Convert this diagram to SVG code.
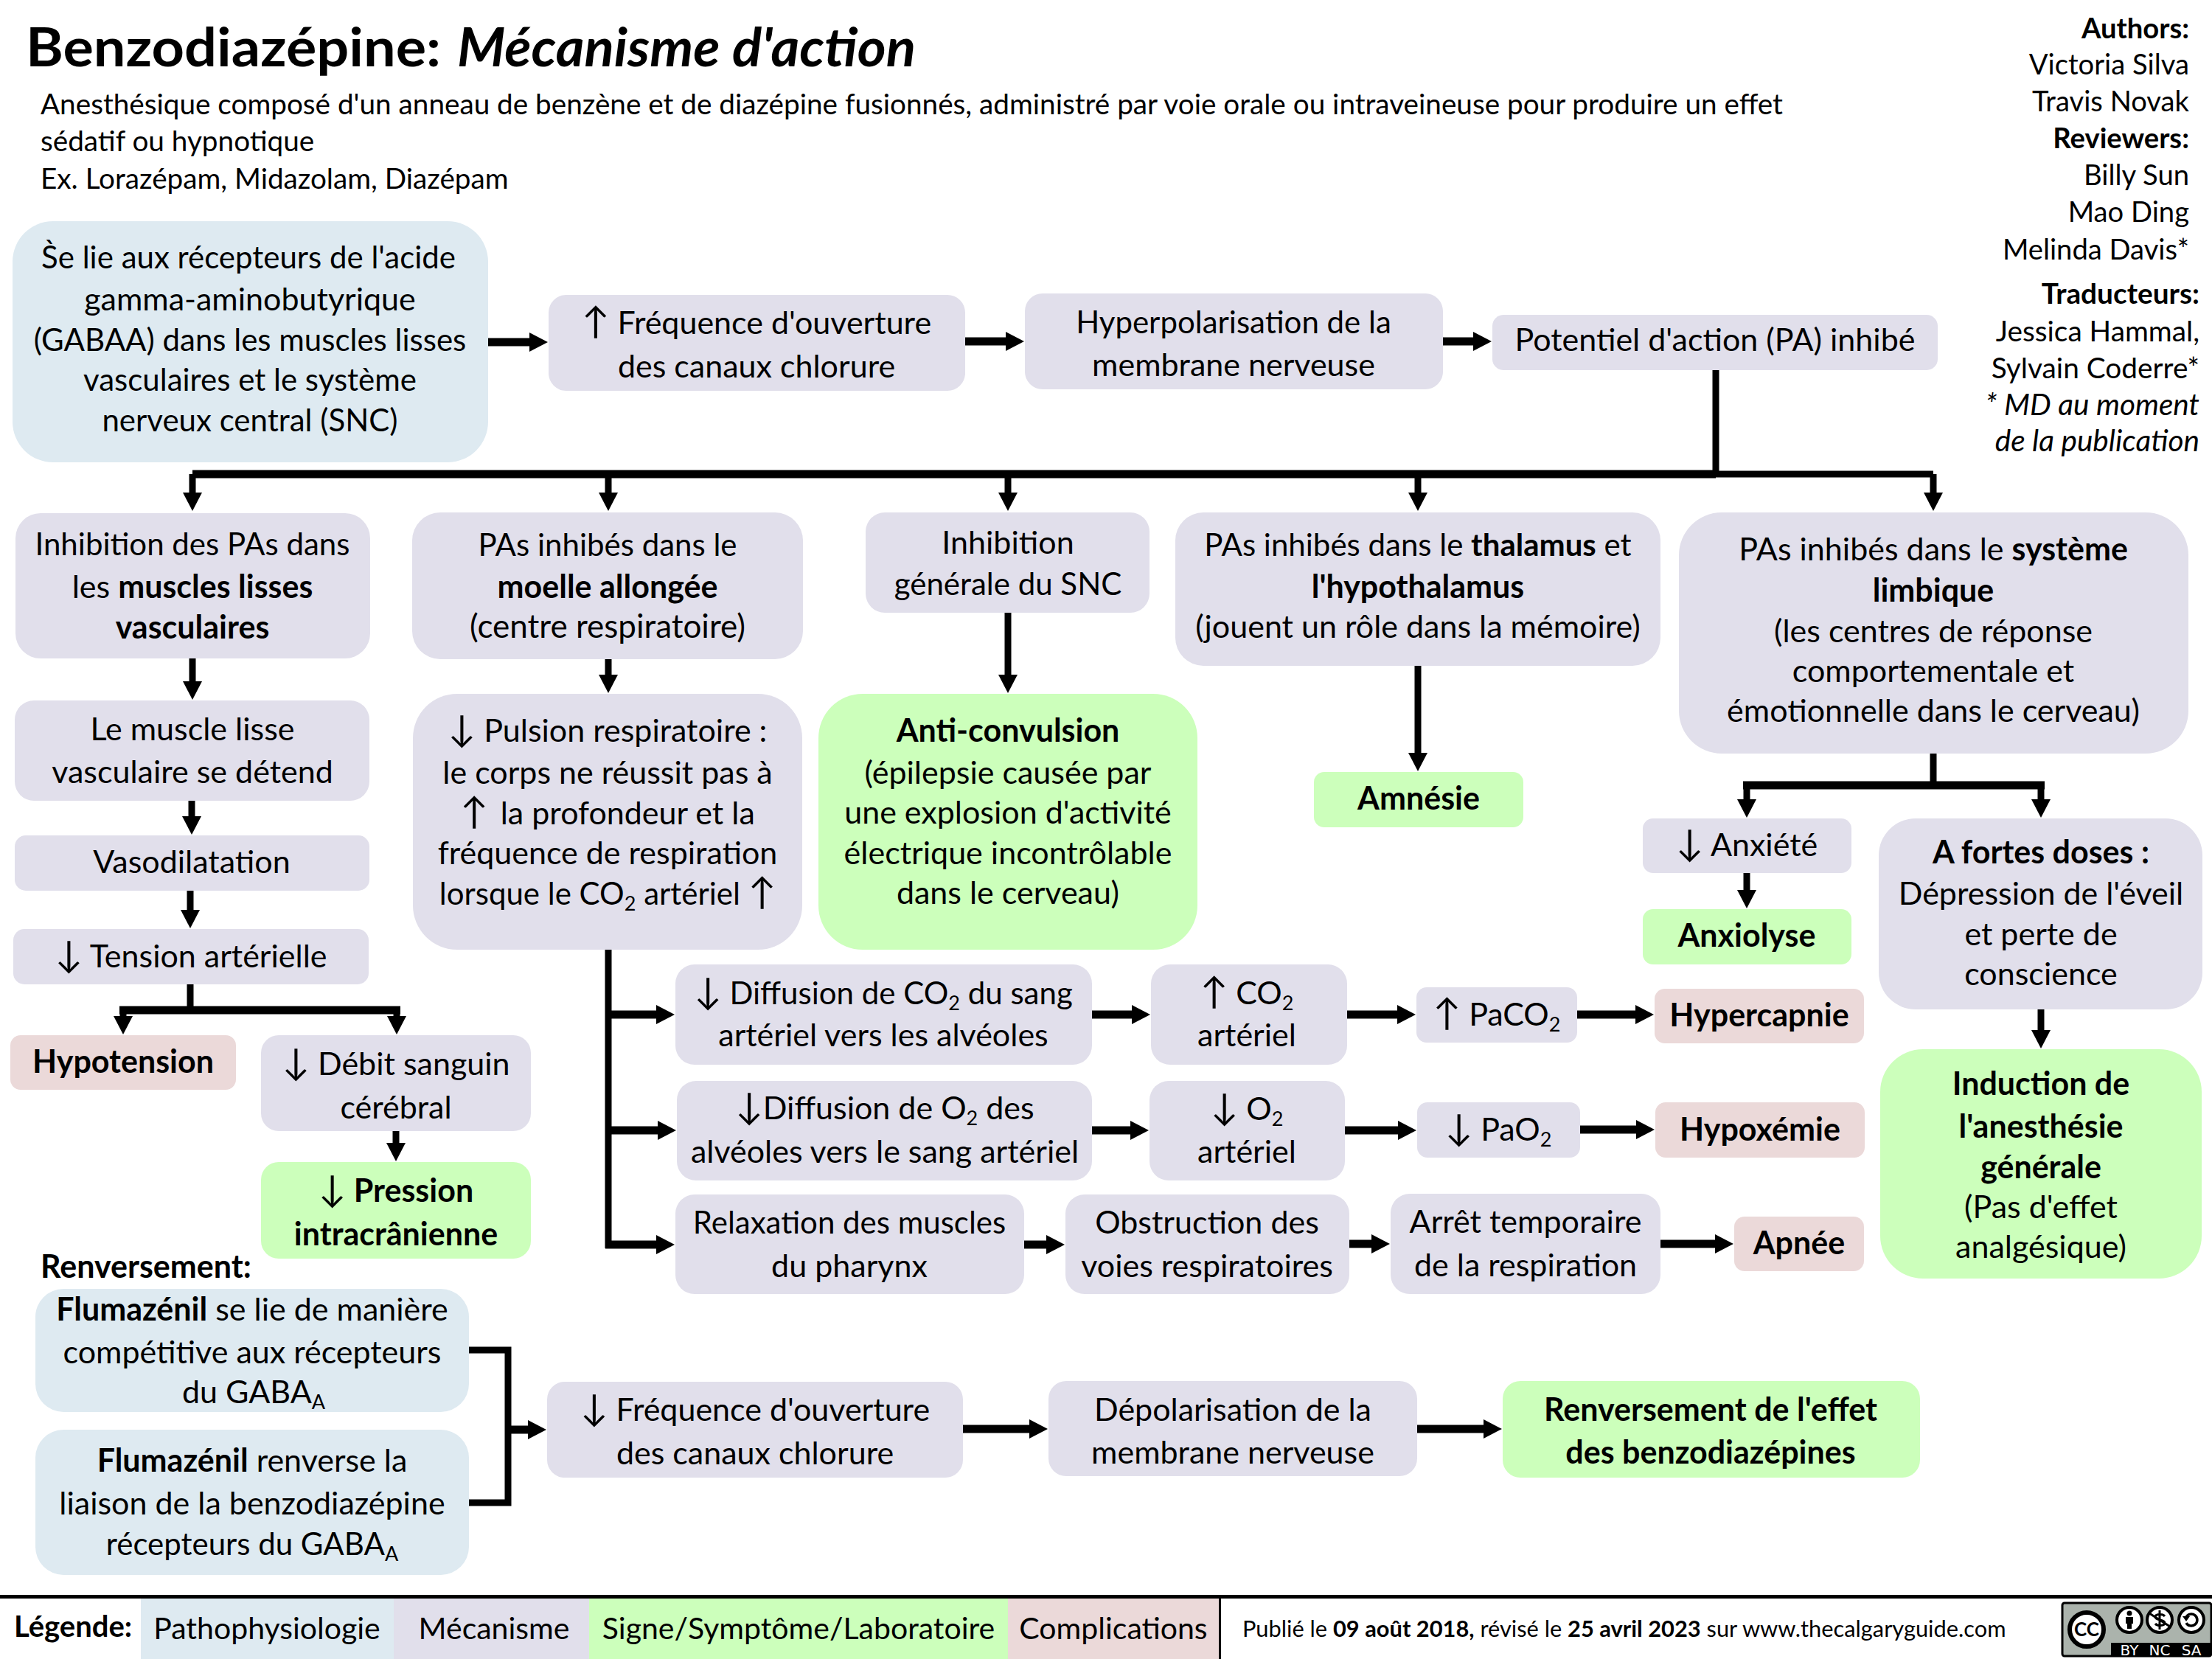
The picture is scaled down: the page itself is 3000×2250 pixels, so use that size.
<svg xmlns="http://www.w3.org/2000/svg" width="3000" height="2250" viewBox="0 0 3000 2250">
<style>
text{font-family:"Lato","Liberation Sans","DejaVu Sans",sans-serif;fill:#000}
.t{font-size:43px;text-anchor:middle}
.s{font-size:38.7px}
.cr{font-size:38.2px;text-anchor:end}
.tr{font-size:38.8px;text-anchor:end}
.ci{font-size:40.6px;font-style:italic}
.lg{font-size:41px;text-anchor:middle}
.b{font-weight:700}
.i{font-style:italic}
.sub{font-size:27px}
.ar{font-size:50px;font-weight:400}
.f42{font-size:42px}
.f44{font-size:44px}
.blue{fill:#DEEAF1}.mech{fill:#E1DFEB}.sign{fill:#CCFFBB}.comp{fill:#EBD9D9}
.c{fill:none;stroke:#000;stroke-width:9;stroke-linejoin:miter}
.a{marker-end:url(#h)}
.h{stroke-width:11}
.w{fill:#fff;stroke:#000}
.cct{font-size:20px;text-anchor:middle;fill:#fff;font-family:"DejaVu Sans",sans-serif}
</style>
<defs><marker id="h" markerUnits="userSpaceOnUse" viewBox="0 0 25 26" refX="1" refY="13" markerWidth="25" markerHeight="26" orient="auto"><path d="M0,0L25,13L0,26Z" fill="#000"/></marker></defs>
<rect width="3000" height="2250" fill="#fff"/>
<g id="header">
<text x="35" y="90" font-size="72" class="b" textLength="563" lengthAdjust="spacingAndGlyphs">Benzodiazépine:</text>
<text x="620" y="90" font-size="72" class="b i" textLength="622" lengthAdjust="spacingAndGlyphs">Mécanisme d'action</text>
<text class="s"><tspan x="55" y="155">Anesthésique composé d'un anneau de benzène et de diazépine fusionnés, administré par voie orale ou intraveineuse pour produire un effet</tspan><tspan x="55" y="205">sédatif ou hypnotique</tspan><tspan x="55" y="256">Ex. Lorazépam, Midazolam, Diazépam</tspan></text>
</g>
<g id="credits">
<text class="cr"><tspan x="2969" y="52" class="b">Authors:</tspan><tspan x="2969" y="101">Victoria Silva</tspan><tspan x="2969" y="151">Travis Novak</tspan><tspan x="2969" y="201" class="b">Reviewers:</tspan><tspan x="2969" y="251">Billy Sun</tspan><tspan x="2969" y="301">Mao Ding</tspan><tspan x="2969" y="352">Melinda Davis*</tspan></text>
<text class="tr"><tspan x="2983" y="412" class="b">Traducteurs:</tspan><tspan x="2983" y="463">Jessica Hammal,</tspan><tspan x="2983" y="513">Sylvain Coderre*</tspan><tspan x="2983" y="563" class="ci">* MD au moment</tspan><tspan x="2983" y="612" class="ci">de la publication</tspan></text>
</g>
<g id="connectors">
<path class="c h a" d="M662,464H719"/>
<path class="c h a" d="M1309,463H1365"/>
<path class="c h a" d="M1957,463H1999"/>
<path class="c" d="M2327,502V643"/>
<path class="c h" d="M261,643H2327"/>
<path class="c" d="M2327,643H2622"/>
<path class="c a" d="M261,643V669"/>
<path class="c a" d="M825,643V669"/>
<path class="c a" d="M1367,643V669"/>
<path class="c a" d="M1923,643V669"/>
<path class="c a" d="M2622,643V669"/>
<path class="c a" d="M261,893V925"/>
<path class="c a" d="M260,1086V1108"/>
<path class="c a" d="M258,1208V1235"/>
<path class="c" d="M258,1335V1370"/>
<path class="c a" d="M167,1370V1379"/>
<path class="c a" d="M538,1370V1379"/>
<path class="c h" d="M162,1370H543"/>
<path class="c a" d="M537,1534V1551"/>
<path class="c a" d="M825,894V916"/>
<path class="c" d="M825,1288V1693"/>
<path class="c h a" d="M825,1376H891"/>
<path class="c h a" d="M825,1533H893"/>
<path class="c h a" d="M821,1688H891"/>
<path class="c a" d="M1367,831V916"/>
<path class="c a" d="M1923,903V1022"/>
<path class="c" d="M2622,1022V1065"/>
<path class="c h" d="M2364,1065H2773"/>
<path class="c a" d="M2369,1065V1085"/>
<path class="c a" d="M2768,1065V1085"/>
<path class="c a" d="M2369,1184V1208"/>
<path class="c a" d="M2768,1369V1398"/>
<path class="c h a" d="M1481,1376H1536"/>
<path class="c h a" d="M1827,1376H1896"/>
<path class="c h a" d="M2139,1376H2219"/>
<path class="c h a" d="M1481,1533H1534"/>
<path class="c h a" d="M1824,1533H1897"/>
<path class="c h a" d="M2143,1532H2220"/>
<path class="c h a" d="M1389,1688H1420"/>
<path class="c h a" d="M1830,1687H1861"/>
<path class="c h a" d="M2252,1687H2327"/>
<path class="c" d="M636,1831H689V2038H636"/>
<path class="c h a" d="M689,1939H717"/>
<path class="c h a" d="M1306,1938H1397"/>
<path class="c h a" d="M1922,1938H2013"/>
</g>
<g id="n-gaba"><rect class="blue" x="17" y="300" width="645" height="327" rx="55"/><text class="t"><tspan x="337" y="364" class="f42">S̀e lie aux récepteurs de l'acide</tspan><tspan x="339" y="421">gamma-aminobutyrique</tspan><tspan x="339" y="476" class="f42">(GABAA) dans les muscles lisses</tspan><tspan x="339" y="530" class="f42">vasculaires et le système</tspan><tspan x="339" y="585" class="f42">nerveux central (SNC)</tspan></text></g>
<g id="n-freq"><rect class="mech" x="744" y="400" width="565" height="130" rx="24"/><text class="t"><tspan x="1026" y="453"><tspan class="ar">↑</tspan> Fréquence d'ouverture</tspan><tspan x="1026" y="512">des canaux chlorure</tspan></text></g>
<g id="n-hyper"><rect class="mech" x="1390" y="398" width="567" height="130" rx="24"/><text class="t"><tspan x="1673" y="452" class="f42">Hyperpolarisation de la</tspan><tspan x="1673" y="510">membrane nerveuse</tspan></text></g>
<g id="n-pa"><rect class="mech" x="2024" y="427" width="604" height="75" rx="15"/><text class="t"><tspan x="2326" y="476">Potentiel d'action (PA) inhibé</tspan></text></g>
<g id="n-inhib"><rect class="mech" x="21" y="696" width="481" height="197" rx="34"/><text class="t"><tspan x="261" y="753" class="f42">Inhibition des PAs dans</tspan><tspan x="261" y="811">les <tspan class="b">muscles lisses</tspan></tspan><tspan x="261" y="866" class="b">vasculaires</tspan></text></g>
<g id="n-moelle"><rect class="mech" x="559" y="695" width="530" height="199" rx="38"/><text class="t"><tspan x="824" y="754" class="f42">PAs inhibés dans le</tspan><tspan x="824" y="811" class="b">moelle allongée</tspan><tspan x="824" y="865" class="f44">(centre respiratoire)</tspan></text></g>
<g id="n-snc"><rect class="mech" x="1174" y="695" width="385" height="136" rx="26"/><text class="t"><tspan x="1367" y="751">Inhibition</tspan><tspan x="1367" y="807" class="f42">générale du SNC</tspan></text></g>
<g id="n-thal"><rect class="mech" x="1594" y="695" width="658" height="208" rx="38"/><text class="t"><tspan x="1923" y="754" class="f42">PAs inhibés dans le <tspan class="b">thalamus</tspan> et</tspan><tspan x="1923" y="811" class="b">l'hypothalamus</tspan><tspan x="1923" y="865">(jouent un rôle dans la mémoire)</tspan></text></g>
<g id="n-limb"><rect class="mech" x="2277" y="695" width="691" height="327" rx="58"/><text class="t"><tspan x="2622" y="760">PAs inhibés dans le <tspan class="b">système</tspan></tspan><tspan x="2622" y="816" class="b">limbique</tspan><tspan x="2622" y="871">(les centres de réponse</tspan><tspan x="2622" y="925">comportementale et</tspan><tspan x="2622" y="979">émotionnelle dans le cerveau)</tspan></text></g>
<g id="n-muscle"><rect class="mech" x="20" y="950" width="481" height="136" rx="26"/><text class="t"><tspan x="261" y="1004">Le muscle lisse</tspan><tspan x="261" y="1062">vasculaire se détend</tspan></text></g>
<g id="n-vaso"><rect class="mech" x="20" y="1133" width="481" height="75" rx="15"/><text class="t"><tspan x="260" y="1184">Vasodilatation</tspan></text></g>
<g id="n-tension"><rect class="mech" x="18" y="1260" width="482" height="75" rx="15"/><text class="t"><tspan x="259" y="1312"><tspan class="ar">↓</tspan> Tension artérielle</tspan></text></g>
<g id="n-hypot"><rect class="comp" x="14" y="1404" width="306" height="74" rx="14"/><text class="t b"><tspan x="167" y="1455">Hypotension</tspan></text></g>
<g id="n-debit"><rect class="mech" x="354" y="1404" width="366" height="130" rx="24"/><text class="t"><tspan x="537" y="1458"><tspan class="ar">↓</tspan> Débit sanguin</tspan><tspan x="537" y="1517">cérébral</tspan></text></g>
<g id="n-press"><rect class="sign" x="354" y="1576" width="366" height="131" rx="24"/><text class="t b"><tspan x="537" y="1630"><tspan class="ar">↓</tspan> Pression</tspan><tspan x="537" y="1689">intracrânienne</tspan></text></g>
<g id="n-puls"><rect class="mech" x="560" y="941" width="528" height="347" rx="60"/><text class="t"><tspan x="824" y="1006"><tspan class="ar">↓</tspan> Pulsion respiratoire :</tspan><tspan x="824" y="1063">le corps ne réussit pas à</tspan><tspan x="824" y="1118"><tspan class="ar">↑</tspan><tspan dx="6"> la profondeur et la</tspan></tspan><tspan x="824" y="1172">fréquence de respiration</tspan><tspan x="824" y="1227" class="f42">lorsque le CO<tspan class="sub" dy="8">2</tspan><tspan dy="-8"> artériel </tspan><tspan class="ar">↑</tspan></tspan></text></g>
<g id="n-anti"><rect class="sign" x="1110" y="941" width="514" height="347" rx="60"/><text class="t"><tspan x="1367" y="1006" class="b">Anti-convulsion</tspan><tspan x="1367" y="1063">(épilepsie causée par</tspan><tspan x="1367" y="1117">une explosion d'activité</tspan><tspan x="1367" y="1172">électrique incontrôlable</tspan><tspan x="1367" y="1226">dans le cerveau)</tspan></text></g>
<g id="n-amn"><rect class="sign" x="1782" y="1047" width="284" height="75" rx="14"/><text class="t b"><tspan x="1924" y="1098">Amnésie</tspan></text></g>
<g id="n-anx"><rect class="mech" x="2228" y="1110" width="283" height="74" rx="14"/><text class="t"><tspan x="2369" y="1161"><tspan class="ar">↓</tspan> Anxiété</tspan></text></g>
<g id="n-anxl"><rect class="sign" x="2228" y="1233" width="283" height="75" rx="14"/><text class="t b"><tspan x="2369" y="1284">Anxiolyse</tspan></text></g>
<g id="n-fort"><rect class="mech" x="2548" y="1110" width="439" height="259" rx="50"/><text class="t"><tspan x="2768" y="1171" class="b">A fortes doses :</tspan><tspan x="2768" y="1227">Dépression de l'éveil</tspan><tspan x="2768" y="1282">et perte de</tspan><tspan x="2768" y="1336">conscience</tspan></text></g>
<g id="n-induc"><rect class="sign" x="2550" y="1423" width="436" height="311" rx="58"/><text class="t"><tspan x="2768" y="1485" class="b">Induction de</tspan><tspan x="2768" y="1543" class="b">l'anesthésie</tspan><tspan x="2768" y="1598" class="b">générale</tspan><tspan x="2768" y="1652">(Pas d'effet</tspan><tspan x="2768" y="1706">analgésique)</tspan></text></g>
<g id="n-dco2"><rect class="mech" x="916" y="1308" width="565" height="136" rx="26"/><text class="t"><tspan x="1198" y="1362" class="f42"><tspan class="ar">↓</tspan> Diffusion de CO<tspan class="sub" dy="8">2</tspan><tspan dy="-8"> du sang</tspan></tspan><tspan x="1198" y="1419">artériel vers les alvéoles</tspan></text></g>
<g id="n-co2"><rect class="mech" x="1561" y="1308" width="266" height="136" rx="26"/><text class="t"><tspan x="1691" y="1362"><tspan class="ar">↑</tspan> CO<tspan class="sub" dy="8">2</tspan></tspan><tspan x="1691" y="1419">artériel</tspan></text></g>
<g id="n-paco2"><rect class="mech" x="1921" y="1339" width="218" height="75" rx="14"/><text class="t"><tspan x="2030" y="1391"><tspan class="ar">↑</tspan> PaCO<tspan class="sub" dy="8">2</tspan></tspan></text></g>
<g id="n-hcap"><rect class="comp" x="2244" y="1341" width="284" height="74" rx="14"/><text class="t b"><tspan x="2386" y="1392">Hypercapnie</tspan></text></g>
<g id="n-do2"><rect class="mech" x="918" y="1466" width="563" height="135" rx="26"/><text class="t"><tspan x="1200" y="1518"><tspan class="ar">↓</tspan>Diffusion de O<tspan class="sub" dy="8">2</tspan><tspan dy="-8"> des</tspan></tspan><tspan x="1200" y="1577">alvéoles vers le sang artériel</tspan></text></g>
<g id="n-o2"><rect class="mech" x="1559" y="1466" width="265" height="135" rx="26"/><text class="t"><tspan x="1691" y="1519"><tspan class="ar">↓</tspan> O<tspan class="sub" dy="8">2</tspan></tspan><tspan x="1691" y="1577">artériel</tspan></text></g>
<g id="n-pao2"><rect class="mech" x="1922" y="1495" width="221" height="75" rx="14"/><text class="t"><tspan x="2032" y="1547"><tspan class="ar">↓</tspan> PaO<tspan class="sub" dy="8">2</tspan></tspan></text></g>
<g id="n-hox"><rect class="comp" x="2245" y="1495" width="284" height="75" rx="14"/><text class="t b"><tspan x="2387" y="1547">Hypoxémie</tspan></text></g>
<g id="n-relax"><rect class="mech" x="916" y="1620" width="473" height="135" rx="26"/><text class="t"><tspan x="1152" y="1673" class="f42">Relaxation des muscles</tspan><tspan x="1152" y="1732">du pharynx</tspan></text></g>
<g id="n-obst"><rect class="mech" x="1445" y="1620" width="385" height="135" rx="26"/><text class="t"><tspan x="1637" y="1673">Obstruction des</tspan><tspan x="1637" y="1732">voies respiratoires</tspan></text></g>
<g id="n-arret"><rect class="mech" x="1886" y="1619" width="366" height="136" rx="26"/><text class="t"><tspan x="2069" y="1672">Arrêt temporaire</tspan><tspan x="2069" y="1731">de la respiration</tspan></text></g>
<g id="n-apnee"><rect class="comp" x="2352" y="1650" width="176" height="74" rx="14"/><text class="t b"><tspan x="2440" y="1701">Apnée</tspan></text></g>
<g id="n-renv-label"><text x="55" y="1733" font-size="43" class="b">Renversement:</text></g>
<g id="n-flum1"><rect class="blue" x="48" y="1748" width="588" height="167" rx="38"/><text class="t"><tspan x="342" y="1791"><tspan class="b">Flumazénil</tspan> se lie de manière</tspan><tspan x="342" y="1849">compétitive aux récepteurs</tspan><tspan x="344" y="1903">du GABA<tspan class="sub" dy="8">A</tspan></tspan></text></g>
<g id="n-flum2"><rect class="blue" x="48" y="1939" width="588" height="197" rx="38"/><text class="t"><tspan x="342" y="1996"><tspan class="b">Flumazénil</tspan> renverse la</tspan><tspan x="342" y="2054">liaison de la benzodiazépine</tspan><tspan x="342" y="2109" class="f42">récepteurs du GABA<tspan class="sub" dy="8">A</tspan></tspan></text></g>
<g id="n-freq2"><rect class="mech" x="742" y="1874" width="564" height="130" rx="24"/><text class="t"><tspan x="1024" y="1927"><tspan class="ar">↓</tspan> Fréquence d'ouverture</tspan><tspan x="1024" y="1986">des canaux chlorure</tspan></text></g>
<g id="n-depol"><rect class="mech" x="1422" y="1873" width="500" height="129" rx="24"/><text class="t"><tspan x="1672" y="1927">Dépolarisation de la</tspan><tspan x="1672" y="1985">membrane nerveuse</tspan></text></g>
<g id="n-renv"><rect class="sign" x="2038" y="1873" width="566" height="131" rx="24"/><text class="t b"><tspan x="2320" y="1927">Renversement de l'effet</tspan><tspan x="2320" y="1985">des benzodiazépines</tspan></text></g>
<g id="legend">
<rect x="0" y="2163" width="3000" height="5" fill="#000"/>
<rect class="blue" x="191" y="2168" width="343" height="82"/>
<rect class="mech" x="534" y="2168" width="265" height="82"/>
<rect class="sign" x="799" y="2168" width="568" height="82"/>
<rect class="comp" x="1367" y="2168" width="286" height="82"/>
<rect x="1653" y="2168" width="3" height="82" fill="#000"/>
<text x="19" y="2220" font-size="40" class="b">Légende:</text>
<text class="lg"><tspan x="362" y="2223">Pathophysiologie</tspan><tspan x="670" y="2223">Mécanisme</tspan><tspan x="1083" y="2223">Signe/Symptôme/Laboratoire</tspan><tspan x="1510" y="2223">Complications</tspan></text>
<text x="1685" y="2220" font-size="30.8">Publié le <tspan class="b">09 août 2018,</tspan> révisé le <tspan class="b">25 avril 2023</tspan> sur www.thecalgaryguide.com</text>
</g>
<g id="cc-badge">
<rect x="2797" y="2174" width="202" height="72" rx="3" fill="#ABB3AC" stroke="#000" stroke-width="3"/>
<rect x="2863" y="2228" width="136" height="18" fill="#000"/>
<circle class="w" cx="2830" cy="2210" r="23" stroke-width="6"/>
<circle class="w" cx="2888" cy="2197" r="17" stroke-width="4"/>
<circle class="w" cx="2929" cy="2197" r="17" stroke-width="4"/>
<circle class="w" cx="2972" cy="2197" r="17" stroke-width="4"/>
<text x="2830" y="2219" font-size="26" text-anchor="middle" class="b">CC</text>
<circle cx="2888" cy="2188" r="3.5"/><path d="M2883,2193h10v9h-2v7h-6v-7h-2z"/>
<path d="M2936,2192c-3,-4 -13,-3 -13,1c0,5 13,3 13,8c0,4 -10,5 -13,1M2929,2184v26M2915,2188l28,18" fill="none" stroke="#000" stroke-width="3"/>
<path d="M2965,2193a8,8 0 1 1 0,8" fill="none" stroke="#000" stroke-width="3.5"/><path d="M2960,2192l10,0l-5,7z"/>
<text class="cct" x="2888" y="2245">BY</text>
<text class="cct" x="2929" y="2245">NC</text>
<text class="cct" x="2972" y="2245">SA</text>
</g>
</svg>
